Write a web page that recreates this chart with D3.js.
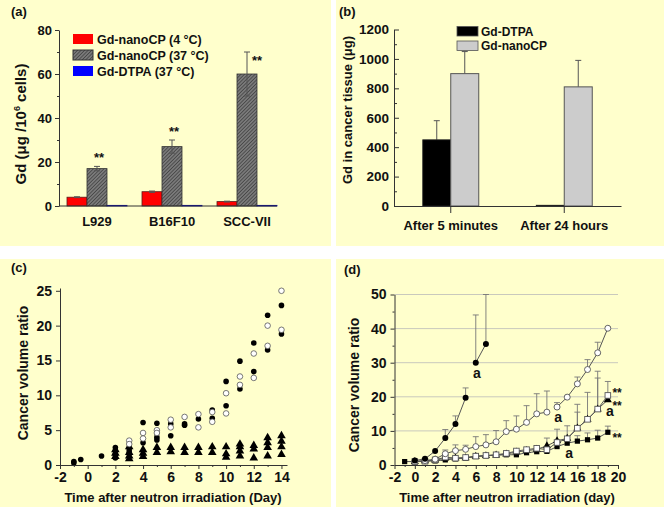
<!DOCTYPE html>
<html>
<head>
<meta charset="utf-8">
<script src="https://cdn.jsdelivr.net/npm/d3@7/dist/d3.min.js"></script>
<style>
  body { margin: 0; background: #fff; }
  text { font-family: "Liberation Sans", Arial, sans-serif; font-weight: bold; fill: #111; }
</style>
</head>
<body>
<svg id="fig" width="666" height="507"></svg>
<script>
// ---------- (a) cellular uptake ----------
const cellLines = ['L929', 'B16F10', 'SCC-VII'];
const nano4C = [4.0, 6.5, 2.0];
const nano4CErr = [0.2, 0.3, 0.2];
const nano37C = [17, 27, 60];
const nano37CErr = [1, 3, 10];
const dtpa37C = [0.3, 0.3, 0.3];
const uptakeTicks = [0, 20, 40, 60, 80];
const uptakeMinor = [10, 30, 50, 70];
const legendA = ['Gd-nanoCP (4 \u00B0C)', 'Gd-nanoCP (37 \u00B0C)', 'Gd-DTPA (37 \u00B0C)'];

// ---------- (b) Gd in tumour ----------
const timePoints = ['After 5 minutes', 'After 24 hours'];
const tissueDTPA = [450, 5];
const tissueDTPAErr = [130, 0];
const tissueNano = [900, 810];
const tissueNanoErr = [150, 180];
const tissueTicks = [0, 200, 400, 600, 800, 1000, 1200];
const tissueMinor = [100, 300, 500, 700, 900, 1100];
const legendB = ['Gd-DTPA', 'Gd-nanoCP'];

// ---------- (c) individual tumours  [day, ratio] ----------
const cFilled = [[-1, 0.5], [-1, 0.3], [-0.5, 0.8], [1, 1.3],
  [2, 2.5], [2, 2.0], [2, 1.5], [2, 1.0], [3, 2.4], [3, 2.0], [3, 1.6],
  [4, 6.1], [4, 3.2], [5, 6.0], [5, 4.0], [5, 3.6], [6, 5.9], [6, 4.2],
  [7, 5.9], [7, 5.7], [8, 6.6], [9, 7.9], [9, 6.7], [10, 12.0], [10, 8.5],
  [11, 14.9], [11, 10.9], [12, 17.5], [12, 13.4], [13, 21.5], [13, 16.5],
  [14, 22.9], [14, 18.8]];
const cOpen = [[3, 3.5], [3, 3.0], [4, 4.6], [4, 3.8], [5, 5.0], [5, 4.6],
  [6, 6.5], [6, 5.4], [7, 6.9], [8, 7.3], [8, 5.4], [9, 7.6], [9, 6.2],
  [10, 10.3], [10, 7.4], [11, 12.7], [11, 11.5], [12, 16.0], [12, 12.5],
  [13, 20.0], [13, 17.1], [14, 25.0], [14, 19.4]];
const cTriangle = [[2, 2.2], [2, 1.7], [2, 1.2], [3, 2.6], [3, 1.8], [3, 1.3], [3, 0.9],
  [4, 2.2], [4, 1.7], [4, 1.2], [5, 2.5], [5, 1.8], [6, 2.5], [6, 1.9],
  [7, 2.5], [7, 1.8], [8, 2.5], [8, 1.8], [9, 2.6], [9, 1.8],
  [10, 2.6], [10, 1.6], [10, 1.1], [11, 3.0], [11, 2.6], [11, 2.0], [11, 1.3],
  [12, 2.8], [12, 2.3], [12, 1.0], [13, 3.9], [13, 3.2], [13, 2.5], [13, 1.3],
  [14, 4.2], [14, 3.4], [14, 2.6], [14, 1.5]];
const cYTicks = [0, 5, 10, 15, 20, 25];
const cXTicks = [-2, 0, 2, 4, 6, 8, 10, 12, 14];

// ---------- (d) mean tumour growth ----------
const dCircleDays = [0, 1, 2, 3, 4, 5, 6, 7];
const dCircle = [1.3, 1.8, 4.1, 7.9, 12.0, 19.7, 30, 35.5];
const dCircleTop = [null, null, null, 10.4, 14.4, 22.6, 44, 50];
const dOpenDays = [0, 1, 2, 3, 4, 5, 6, 7, 8, 9, 10, 11, 12, 13, 14, 15, 16, 17, 18, 19];
const dOpen = [1.0, 1.3, 1.7, 3.3, 4.2, 4.6, 5.4, 5.9, 6.8, 9.8, 10.5, 12.5, 15.0, 15.5, 17.0, 19.9, 23.8, 28.0, 32.9, 40.1];
const dOpenTop = [null, null, null, 4.4, 5.9, 5.8, 8.3, 8.9, 10.1, 13, 14.4, 17.4, 20.9, 21.7, 18.3, null, 25.8, 30.9, 36, null];
const dSquareDays = [0, 1, 2, 3, 4, 5, 6, 7, 8, 9, 10, 11, 12, 13, 14, 15, 16, 17, 18, 19];
const dSquare = [1.0, 1.1, 1.5, 2.3, 2.0, 2.2, 2.6, 2.8, 3.0, 3.4, 4.1, 4.5, 4.9, 4.5, 6.6, 7.7, 10.8, 13.4, 16.4, 20.4];
const dSquareTop = [null, null, null, null, null, null, null, null, null, null, null, null, null, null, null, null, 17.8, 21.3, 27.5, 24.5];
const dTriDays = [0, 1, 2, 3, 4, 5, 6, 7, 8, 9, 10, 11, 12, 13, 14, 15, 16, 17, 18, 19];
const dTri = [1.0, 1.2, 1.4, 2.0, 2.0, 2.1, 2.5, 2.7, 2.9, 3.2, 3.8, 4.2, 4.6, 5.6, 7.1, 7.8, 10.8, 13.4, 16.4, 19.1];
const dTriTop = [null, null, null, null, null, null, null, null, null, null, null, null, null, 7.9, 10.5, 11.5, 15.5, null, 25.5, null];
const dFillSqDays = [-1, 0, 1, 2, 3, 4, 5, 6, 7, 8, 9, 10, 11, 12, 13, 14, 15, 16, 17, 18, 19];
const dFillSq = [1.0, 1.0, 1.1, 1.2, 1.5, 1.8, 2.0, 2.5, 2.7, 2.9, 3.0, 3.0, 3.6, 3.9, 4.0, 5.4, 6.4, 7.0, 7.4, 7.9, 9.6];
const dFillSqTop = [null, null, null, null, null, null, null, null, null, null, null, null, null, null, null, null, null, 8.6, 9.4, 10.2, 11.4];
const dYTicks = [0, 10, 20, 30, 40, 50];
const dXTicks = [-2, 0, 2, 4, 6, 8, 10, 12, 14, 16, 18, 20];
// annotation labels [day, ratio, text]
const dNotes = [[6.1, 25.5, 'a'], [14.1, 12.6, 'a'], [19.2, 14.4, 'a'], [15.2, 2.0, 'a'],
  [19.45, 19.9, '**'], [19.45, 16.2, '**'], [19.45, 6.7, '**']];

const svg = d3.select('#fig');
const AX = '#333';
const plain = d => String(d);

// panel backgrounds
svg.append('rect').attr('x', 0).attr('y', 0).attr('width', 666).attr('height', 507).attr('fill', '#fff');
[[0, 0, 331, 246], [336, 0, 328, 246], [0, 259, 331, 248], [336, 259, 328, 248]].forEach(r => {
  svg.append('rect').attr('x', r[0]).attr('y', r[1]).attr('width', r[2]).attr('height', r[3]).attr('fill', '#FFFFCC');
});

// hatch pattern for Gd-nanoCP 37 C
const defs = svg.append('defs');
const pat = defs.append('pattern').attr('id', 'hatch').attr('patternUnits', 'userSpaceOnUse')
  .attr('width', 2.5).attr('height', 2.5).attr('patternTransform', 'rotate(45)');
pat.append('rect').attr('width', 2.5).attr('height', 2.5).attr('fill', '#7a7a7a');
pat.append('line').attr('x1', 0).attr('y1', 0).attr('x2', 0).attr('y2', 2.5).attr('stroke', '#333').attr('stroke-width', 1.2);

function styleAxis(g, size) {
  g.selectAll('path, line').attr('stroke', AX).attr('stroke-width', 1);
  g.selectAll('text').attr('font-size', size).attr('fill', '#111')
    .attr('font-family', '"Liberation Sans", Arial, sans-serif').attr('font-weight', 'bold');
}
function panelLabel(x, y, t) {
  svg.append('text').attr('x', x).attr('y', y).attr('font-size', 13).text(t);
}
function yTitle(x, y, size, build) {
  const t = svg.append('text').attr('transform', `translate(${x},${y}) rotate(-90)`)
    .attr('text-anchor', 'middle').attr('font-size', size);
  build(t);
}

// ================= (a) =================
{
  const y = d3.scaleLinear().domain([0, 80]).range([206, 30]);
  const x = d3.scaleBand().domain(cellLines).range([59.5, 284.5]);
  const bw = 20;
  const g = svg.append('g');

  const mk = (vals, off, fill, stroke) => g.selectAll(null).data(vals).join('rect')
    .attr('x', (d, i) => x(cellLines[i]) + x.bandwidth() / 2 + off)
    .attr('y', d => y(d)).attr('width', bw).attr('height', d => y(0) - y(d))
    .attr('fill', fill).attr('stroke', stroke).attr('stroke-width', 0.8);
  mk(nano4C, -30, '#FF0000', '#5a1a1a');
  mk(nano37C, -10, 'url(#hatch)', '#333');
  mk(dtpa37C, 10, '#0000FF', '#0000aa');

  const err = (vals, errs, off) => {
    vals.forEach((v, i) => {
      const cx = x(cellLines[i]) + x.bandwidth() / 2 + off;
      const t = y(v + errs[i]), b = y(v - errs[i]);
      g.append('line').attr('x1', cx).attr('x2', cx).attr('y1', t).attr('y2', b).attr('stroke', '#555');
      [t, b].forEach(yy => g.append('line').attr('x1', cx - 3).attr('x2', cx + 3).attr('y1', yy).attr('y2', yy).attr('stroke', '#555'));
    });
  };
  err(nano4C, nano4CErr, -20);
  err(nano37C, nano37CErr, 0);

  // significance marks
  nano37C.forEach((v, i) => {
    const side = nano37CErr[i] > 5;
    const cx = x(cellLines[i]) + x.bandwidth() / 2 + (side ? 10 : 2);
    const yy = side ? y(v + nano37CErr[i]) + 13 : y(v + nano37CErr[i]) - 4;
    g.append('text').attr('x', cx).attr('y', yy).attr('text-anchor', 'middle').attr('font-size', 13).text('**');
  });

  const ya = svg.append('g').attr('transform', 'translate(59,0)')
    .call(d3.axisLeft(y).tickValues(uptakeTicks).tickFormat(plain).tickSize(4).tickSizeOuter(0).tickPadding(3));
  styleAxis(ya, 13);
  const ym = svg.append('g').attr('transform', 'translate(59,0)')
    .call(d3.axisLeft(y).tickValues(uptakeMinor).tickSize(2).tickFormat(''));
  ym.select('.domain').remove();
  styleAxis(ym, 13);

  const last = x(cellLines[2]) + x.bandwidth() / 2 + 30;
  svg.append('line').attr('x1', 59).attr('x2', last).attr('y1', y(0)).attr('y2', y(0)).attr('stroke', AX);
  cellLines.forEach(c => {
    svg.append('text').attr('x', x(c) + x.bandwidth() / 2).attr('y', 226).attr('text-anchor', 'middle')
      .attr('font-size', 13).text(c);
  });

  // legend
  const fills = ['#FF0000', 'url(#hatch)', '#0000FF'];
  legendA.forEach((t, i) => {
    const ly = 39 + i * 16;
    svg.append('rect').attr('x', 73).attr('y', ly - 5).attr('width', 20).attr('height', 10)
      .attr('fill', fills[i]).attr('stroke', i === 1 ? '#333' : 'none');
    svg.append('text').attr('x', 97).attr('y', ly + 4.5).attr('font-size', 12.5).text(t);
  });

  yTitle(26, 124, 15, t => {
    t.append('tspan').text('Gd (\u03BCg /10');
    t.append('tspan').attr('dy', -6).attr('font-size', 9).text('6');
    t.append('tspan').attr('dy', 6).text(' cells)');
  });
  panelLabel(11, 16, '(a)');
}

// ================= (b) =================
{
  const y = d3.scaleLinear().domain([0, 1200]).range([206, 29.5]);
  const x = d3.scaleBand().domain(timePoints).range([394, 621]);
  const bw = 28;
  const g = svg.append('g');
  const cx = i => x(timePoints[i]) + x.bandwidth() / 2;

  const errUp = (vals, errs, off) => vals.forEach((v, i) => {
    if (!errs[i]) return;
    const xx = cx(i) + off;
    g.append('line').attr('x1', xx).attr('x2', xx).attr('y1', y(v)).attr('y2', y(v + errs[i])).attr('stroke', '#555');
    g.append('line').attr('x1', xx - 3).attr('x2', xx + 3).attr('y1', y(v + errs[i])).attr('y2', y(v + errs[i])).attr('stroke', '#555');
  });
  errUp(tissueDTPA, tissueDTPAErr, -bw / 2);
  errUp(tissueNano, tissueNanoErr, bw / 2);

  g.selectAll(null).data(tissueDTPA).join('rect')
    .attr('x', (d, i) => cx(i) - bw).attr('y', d => y(d)).attr('width', bw).attr('height', d => y(0) - y(d))
    .attr('fill', '#000').attr('stroke', '#222').attr('stroke-width', 0.8);
  g.selectAll(null).data(tissueNano).join('rect')
    .attr('x', (d, i) => cx(i)).attr('y', d => y(d)).attr('width', bw).attr('height', d => y(0) - y(d))
    .attr('fill', '#CCCCCC').attr('stroke', '#555').attr('stroke-width', 1);

  const ya = svg.append('g').attr('transform', 'translate(394,0)')
    .call(d3.axisLeft(y).tickValues(tissueTicks).tickFormat(plain).tickSize(-5).tickSizeOuter(0).tickPadding(5));
  styleAxis(ya, 13.5);
  const ym = svg.append('g').attr('transform', 'translate(394,0)')
    .call(d3.axisLeft(y).tickValues(tissueMinor).tickSize(-3).tickFormat(''));
  ym.select('.domain').remove();
  styleAxis(ym, 13);
  const xa = svg.append('g').attr('transform', 'translate(0,206)')
    .call(d3.axisBottom(x).tickSize(7).tickSizeOuter(0).tickPadding(8));
  styleAxis(xa, 13);

  const fills = ['#000', '#CCCCCC'];
  legendB.forEach((t, i) => {
    const ly = 31 + i * 14.5;
    svg.append('rect').attr('x', 457).attr('y', ly - 4.5).attr('width', 21).attr('height', 9.5)
      .attr('fill', fills[i]).attr('stroke', '#555').attr('stroke-width', 0.8);
    svg.append('text').attr('x', 481).attr('y', ly + 4.5).attr('font-size', 12).text(t);
  });

  yTitle(352, 110, 13, t => t.text('Gd in cancer tissue (\u03BCg)'));
  panelLabel(339, 16, '(b)');
}

// ================= (c) =================
{
  const x = d3.scaleLinear().domain([-2, 14.4]).range([60, 287]);
  const y = d3.scaleLinear().domain([0, 25.4]).range([465, 288]);
  const g = svg.append('g');

  g.selectAll(null).data(cTriangle).join('path')
    .attr('d', d3.symbol(d3.symbolTriangle, 32)())
    .attr('transform', d => `translate(${x(d[0])},${y(d[1])})`).attr('fill', '#000');
  g.selectAll(null).data(cFilled).join('circle')
    .attr('cx', d => x(d[0])).attr('cy', d => y(d[1])).attr('r', 2.8).attr('fill', '#000');
  g.selectAll(null).data(cOpen).join('circle')
    .attr('cx', d => x(d[0])).attr('cy', d => y(d[1])).attr('r', 2.8)
    .attr('fill', '#fff').attr('stroke', '#555').attr('stroke-width', 0.8);

  const ya = svg.append('g').attr('transform', 'translate(60,0)')
    .call(d3.axisLeft(y).tickValues(cYTicks).tickFormat(plain).tickSize(4).tickSizeOuter(0).tickPadding(4));
  styleAxis(ya, 14);
  const xa = svg.append('g').attr('transform', 'translate(0,465)')
    .call(d3.axisBottom(x).tickValues(cXTicks).tickFormat(plain).tickSize(4).tickSizeOuter(0).tickPadding(3));
  styleAxis(xa, 14);
  const xm = svg.append('g').attr('transform', 'translate(0,465)')
    .call(d3.axisBottom(x).tickValues(cXTicks.slice(0, -1).map(v => v + 1)).tickSize(2).tickFormat(''));
  xm.select('.domain').remove();
  styleAxis(xm, 14);

  svg.append('text').attr('x', 173).attr('y', 502).attr('text-anchor', 'middle').attr('font-size', 13)
    .text('Time after neutron irradiation (Day)');
  yTitle(28, 373, 14, t => t.text('Cancer volume ratio'));
  panelLabel(11, 272, '(c)');
}

// ================= (d) =================
{
  const x = d3.scaleLinear().domain([-2, 20]).range([394.5, 618]);
  const y = d3.scaleLinear().domain([0, 50]).range([465, 294.5]);
  const g = svg.append('g');

  // grid
  g.selectAll(null).data(dYTicks.slice(1)).join('line')
    .attr('x1', x(-2)).attr('x2', x(20)).attr('y1', d => y(d)).attr('y2', d => y(d))
    .attr('stroke', '#c9c9bd').attr('stroke-width', 1);

  const pts = (days, vals, tops) => days.map((d, i) => ({ d, v: vals[i], t: tops[i] }));
  const sCircle = pts(dCircleDays, dCircle, dCircleTop);
  const sOpen = pts(dOpenDays, dOpen, dOpenTop);
  const sSquare = pts(dSquareDays, dSquare, dSquareTop);
  const sTri = pts(dTriDays, dTri, dTriTop);
  const sFillSq = pts(dFillSqDays, dFillSq, dFillSqTop);

  const line = d3.line().x(p => x(p.d)).y(p => y(p.v));
  const drawLine = arr => g.append('path').attr('d', line(arr)).attr('fill', 'none')
    .attr('stroke', '#555').attr('stroke-width', 1);
  drawLine(sFillSq);
  drawLine(sTri);
  drawLine(sSquare);
  drawLine(sOpen.filter(p => p.d <= 13));
  drawLine(sOpen.filter(p => p.d >= 14));
  drawLine(sCircle.filter(p => p.d <= 5));
  drawLine(sCircle.filter(p => p.d >= 6));

  const errs = arr => arr.filter(p => p.t != null).forEach(p => {
    g.append('line').attr('x1', x(p.d)).attr('x2', x(p.d)).attr('y1', y(p.v)).attr('y2', y(p.t))
      .attr('stroke', '#777').attr('stroke-width', 0.9);
    g.append('line').attr('x1', x(p.d) - 3).attr('x2', x(p.d) + 3).attr('y1', y(p.t)).attr('y2', y(p.t))
      .attr('stroke', '#777').attr('stroke-width', 0.9);
  });
  [sFillSq, sTri, sSquare, sOpen, sCircle].forEach(errs);

  g.selectAll(null).data(sFillSq).join('rect')
    .attr('x', p => x(p.d) - 2.6).attr('y', p => y(p.v) - 2.6).attr('width', 5.2).attr('height', 5.2).attr('fill', '#000');
  g.selectAll(null).data(sTri).join('path')
    .attr('d', d3.symbol(d3.symbolTriangle, 28)())
    .attr('transform', p => `translate(${x(p.d)},${y(p.v)})`).attr('fill', '#000');
  g.selectAll(null).data(sSquare).join('rect')
    .attr('x', p => x(p.d) - 2.8).attr('y', p => y(p.v) - 2.8).attr('width', 5.6).attr('height', 5.6)
    .attr('fill', '#fff').attr('stroke', '#555').attr('stroke-width', 0.9);
  g.selectAll(null).data(sOpen).join('circle')
    .attr('cx', p => x(p.d)).attr('cy', p => y(p.v)).attr('r', 3)
    .attr('fill', '#fff').attr('stroke', '#555').attr('stroke-width', 0.9);
  g.selectAll(null).data(sCircle).join('circle')
    .attr('cx', p => x(p.d)).attr('cy', p => y(p.v)).attr('r', 3).attr('fill', '#000');

  g.selectAll(null).data(dNotes).join('text')
    .attr('x', n => x(n[0])).attr('y', n => y(n[1])).attr('font-size', n => n[2] === 'a' ? 14 : 12)
    .attr('text-anchor', n => n[2] === 'a' ? 'middle' : 'start').text(n => n[2]);

  const ya = svg.append('g').attr('transform', 'translate(394.5,0)')
    .call(d3.axisLeft(y).tickValues(dYTicks).tickFormat(plain).tickSize(4).tickSizeOuter(0).tickPadding(4));
  styleAxis(ya, 14);
  const yMin = svg.append('g').attr('transform', 'translate(394.5,0)')
    .call(d3.axisLeft(y).tickValues(dYTicks.slice(0, -1).map(v => v + 5)).tickSize(2).tickFormat(''));
  yMin.select('.domain').remove();
  styleAxis(yMin, 14);
  const xa = svg.append('g').attr('transform', 'translate(0,465)')
    .call(d3.axisBottom(x).tickValues(dXTicks).tickFormat(plain).tickSize(4).tickSizeOuter(0).tickPadding(3));
  styleAxis(xa, 14);
  const xm = svg.append('g').attr('transform', 'translate(0,465)')
    .call(d3.axisBottom(x).tickValues(dXTicks.slice(0, -1).map(v => v + 1)).tickSize(2).tickFormat(''));
  xm.select('.domain').remove();
  styleAxis(xm, 14);

  svg.append('text').attr('x', 507).attr('y', 502).attr('text-anchor', 'middle').attr('font-size', 13)
    .text('Time after neutron irradiation (day)');
  yTitle(359, 385, 14, t => t.text('Cancer volume ratio'));
  panelLabel(344, 274, '(d)');
}
</script>
</body>
</html>
